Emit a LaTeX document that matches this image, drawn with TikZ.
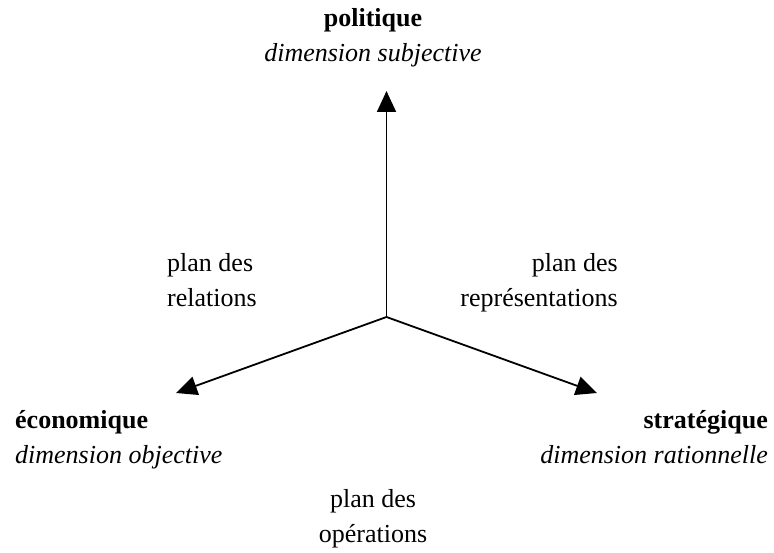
\documentclass[tikz,border=0pt]{standalone}
\usepackage{fontspec}
\setmainfont{Liberation Serif}
\usepackage{tikz}
\usetikzlibrary{arrows.meta}

\begin{document}
\begin{tikzpicture}[x=1pt, y=-1pt,
	axe/.style={line width=1.8pt, -{Triangle[length=21pt, width=19pt]}},
	plan/.style={inner sep=0pt, font=\fontsize{26}{35}\selectfont}]
	% Fix the page size
	\useasboundingbox (0,0) rectangle (774,553);

	% Define the centre and the ends of the three axes
	\coordinate (O) at (386.5,317);
	\coordinate (pol) at (386.5,91);
	\coordinate (eco) at (176,393);
	\coordinate (str) at (597,393);

	% Draw the axes
	\draw[axe] (O) -- (pol);
	\draw[axe] (O) -- (eco);
	\draw[axe] (O) -- (str);

	% Add the dimensions at the ends of the axes (base = last line)
	\node[plan, anchor=base, align=center] (politique) at (373,62)
		{\textbf{politique}\\\textit{dimension subjective}};
	\node[plan, anchor=base west, align=left] (economique) at (15,463)
		{\textbf{économique}\\\textit{dimension objective}};
	\node[plan, anchor=base east, align=right] (strategique) at (768,463)
		{\textbf{stratégique}\\\textit{dimension rationnelle}};

	% Add the planes between the axes
	\node[plan, anchor=base west, align=left] (relations) at (167,307)
		{plan des\\relations};
	\node[plan, anchor=base east, align=right] (representations) at (618,307)
		{plan des\\représentations};
	\node[plan, anchor=base, align=center] (operations) at (373,542)
		{plan des\\opérations};
\end{tikzpicture}
\end{document}
